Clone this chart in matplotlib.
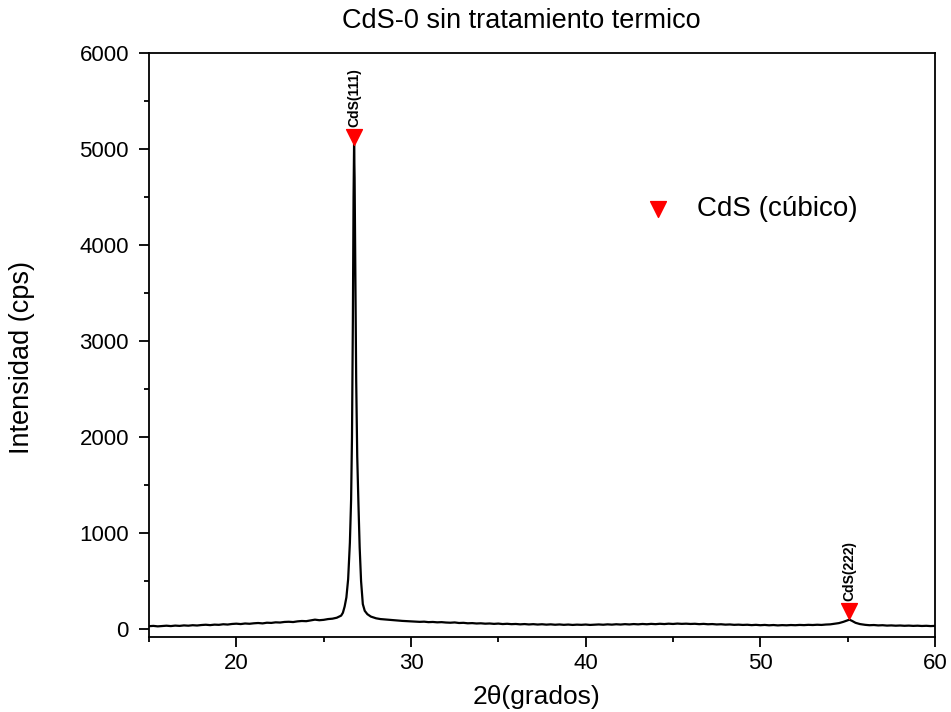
"""Difractograma XRD de CdS-0 sin tratamiento termico"""

import matplotlib
matplotlib.use("Agg")
import matplotlib.pyplot as plt
from matplotlib.ticker import MultipleLocator

plt.rcParams["font.family"] = ["Liberation Sans", "DejaVu Sans"]

# 2theta (grados) e intensidad (cps)
two_theta = [
    15.00, 15.25, 15.50, 15.75, 16.00, 16.25, 16.50, 16.75, 17.00, 17.25,
    17.50, 17.75, 18.00, 18.25, 18.50, 18.75, 19.00, 19.25, 19.50, 19.75,
    20.00, 20.25, 20.50, 20.75, 21.00, 21.25, 21.50, 21.75, 22.00, 22.25,
    22.50, 22.75, 23.00, 23.25, 23.50, 23.75, 24.00, 24.25, 24.50, 24.75,
    25.00, 25.25, 25.50, 25.75, 26.00, 26.10, 26.20, 26.30, 26.40, 26.50,
    26.57, 26.62, 26.67, 26.71, 26.74, 26.77, 26.81, 26.86, 26.92, 26.99,
    27.06, 27.14, 27.24, 27.35, 27.50, 27.70, 28.00, 28.25, 28.50, 28.75,
    29.00, 29.25, 29.50, 29.75, 30.00, 30.25, 30.50, 30.75, 31.00, 31.25,
    31.50, 31.75, 32.00, 32.25, 32.50, 32.75, 33.00, 33.25, 33.50, 33.75,
    34.00, 34.25, 34.50, 34.75, 35.00, 35.25, 35.50, 35.75, 36.00, 36.25,
    36.50, 36.75, 37.00, 37.25, 37.50, 37.75, 38.00, 38.25, 38.50, 38.75,
    39.00, 39.25, 39.50, 39.75, 40.00, 40.25, 40.50, 40.75, 41.00, 41.25,
    41.50, 41.75, 42.00, 42.25, 42.50, 42.75, 43.00, 43.25, 43.50, 43.75,
    44.00, 44.25, 44.50, 44.75, 45.00, 45.25, 45.50, 45.75, 46.00, 46.25,
    46.50, 46.75, 47.00, 47.25, 47.50, 47.75, 48.00, 48.25, 48.50, 48.75,
    49.00, 49.25, 49.50, 49.75, 50.00, 50.25, 50.50, 50.75, 51.00, 51.25,
    51.50, 51.75, 52.00, 52.25, 52.50, 52.75, 53.00, 53.25, 53.50, 53.75,
    54.00, 54.25, 54.50, 54.75, 54.95, 55.10, 55.25, 55.45, 55.70, 56.00,
    56.25, 56.50, 56.75, 57.00, 57.25, 57.50, 57.75, 58.00, 58.25, 58.50,
    58.75, 59.00, 59.25, 59.50, 59.75, 60.00,
]
intensity = [
    30, 33, 28, 32, 35, 31, 36, 33, 38, 35,
    40, 37, 42, 45, 41, 46, 44, 50, 47, 53,
    56, 52, 58, 55, 60, 63, 59, 66, 64, 70,
    68, 74, 76, 73, 80, 84, 82, 90, 98, 92,
    96, 104, 108, 118, 140, 170, 235, 330, 520, 900,
    1350, 2000, 3200, 4500, 5050, 4700, 3700, 2600, 1800, 1300,
    850, 500, 260, 190, 155, 130, 112, 104, 100, 96,
    92, 88, 85, 82, 80, 78, 75, 77, 72, 74,
    70, 72, 68, 66, 69, 63, 65, 60, 62, 58,
    60, 56, 58, 54, 57, 52, 55, 51, 53, 49,
    52, 48, 51, 47, 50, 46, 49, 45, 48, 44,
    47, 43, 46, 44, 47, 43, 46, 48, 45, 49,
    46, 50, 47, 51, 48, 52, 49, 53, 50, 54,
    51, 55, 52, 56, 53, 57, 54, 56, 53, 55,
    51, 54, 50, 52, 48, 50, 46, 48, 44, 46,
    43, 45, 41, 44, 40, 43, 39, 42, 38, 41,
    39, 42, 40, 43, 41, 44, 42, 45, 43, 47,
    49, 55, 62, 75, 88, 98, 85, 65, 52, 44,
    40, 42, 38, 40, 36, 38, 35, 37, 34, 36,
    33, 35, 32, 34, 31, 33,
]

# picos identificados
peak_pos = [26.74, 55.09]
peak_mark = [5130, 190]
peak_labels = ["CdS(111)", "CdS(222)"]


def main():
    """Dibuja el difractograma"""
    fig = plt.figure(figsize=(9.51, 7.12), dpi=100)
    axe = fig.add_axes([0.1567, 0.1053, 0.8265, 0.8203])

    axe.plot(two_theta, intensity, color="black", linewidth=1.6)
    axe.scatter(peak_pos, peak_mark, marker="v", s=130, color="red",
                zorder=3, label="CdS (cúbico)")
    for xpos, ypos, lab in zip(peak_pos, peak_mark, peak_labels):
        axe.annotate(lab, (xpos, ypos), xytext=(0, 7), textcoords="offset points",
                     rotation=90, ha="center", va="bottom", fontsize=10,
                     fontweight="bold")

    axe.set_xlim(15, 60)
    axe.set_ylim(-83, 6000)
    axe.xaxis.set_major_locator(MultipleLocator(10))
    axe.xaxis.set_minor_locator(MultipleLocator(5))
    axe.yaxis.set_major_locator(MultipleLocator(1000))
    axe.yaxis.set_minor_locator(MultipleLocator(500))
    axe.tick_params(which="major", direction="out", length=7.5, width=1.3,
                    labelsize=16)
    axe.tick_params(which="minor", direction="out", length=3.8, width=1.3)
    axe.tick_params(axis="y", pad=7)
    axe.tick_params(axis="x", pad=4)
    for spine in axe.spines.values():
        spine.set_linewidth(1.3)

    fig.text(521 / 951, 1 - 21 / 712, "CdS-0 sin tratamiento termico",
             fontsize=19.5, ha="center", va="center")
    fig.text(536 / 951, 1 - 697 / 712, "2θ(grados)", fontsize=19,
             ha="center", va="center")
    fig.text(22 / 951, 1 - 358 / 712, "Intensidad (cps)", fontsize=19.5,
             rotation=90, ha="center", va="center")

    axe.legend(loc="center left", bbox_to_anchor=(0.630, 0.733), frameon=False,
               fontsize=20, handlelength=1.0, handletextpad=0.9,
               borderpad=0, borderaxespad=0, scatterpoints=1)

    fig.savefig("out.png", dpi=100)


if __name__ == "__main__":
    main()
